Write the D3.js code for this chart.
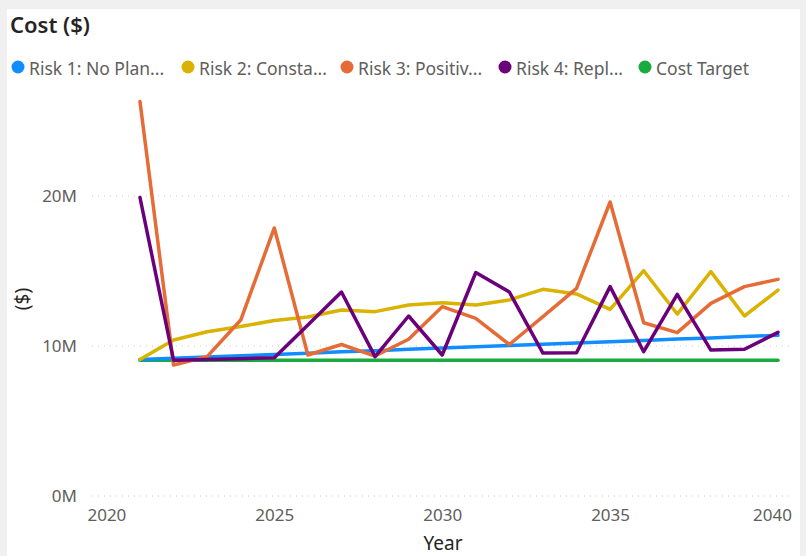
<!DOCTYPE html>
<html>
<head>
<meta charset="utf-8">
<script src="https://cdn.jsdelivr.net/npm/d3@7"></script>
<style>
  body { margin: 0; background: #f0f0f0; }
  svg { display: block; }
  text { font-family: "Segoe UI", "Noto Sans", sans-serif; }
</style>
</head>
<body>
<div id="chart"></div>
<script>
// data (values in $M)
const years = [2021, 2022, 2023, 2024, 2025, 2026, 2027, 2028, 2029, 2030,
               2031, 2032, 2033, 2034, 2035, 2036, 2037, 2038, 2039, 2040];
const risk1 = [9.10, 9.18, 9.27, 9.35, 9.44, 9.52, 9.61, 9.69, 9.78, 9.86,
               9.95, 10.03, 10.12, 10.20, 10.29, 10.37, 10.46, 10.54, 10.63, 10.71];
const risk2 = [9.10, 10.40, 10.95, 11.30, 11.70, 11.93, 12.40, 12.29, 12.73, 12.89,
               12.73, 13.07, 13.78, 13.47, 12.44, 15.02, 12.13, 14.96, 12.00, 13.73];
const risk3 = [26.3, 8.73, 9.29, 11.73, 17.87, 9.40, 10.10, 9.33, 10.45, 12.62,
               11.84, 10.10, 11.96, 13.84, 19.60, 11.55, 10.89, 12.84, 13.96, 14.44];
const risk4 = [19.9, 9.05, 9.10, 9.15, 9.22, 11.40, 13.60, 9.29, 12.00, 9.40,
               14.90, 13.60, 9.53, 9.55, 13.96, 9.62, 13.44, 9.73, 9.78, 10.91];
const costTarget = [9.05, 9.05, 9.05, 9.05, 9.05, 9.05, 9.05, 9.05, 9.05, 9.05,
                    9.05, 9.05, 9.05, 9.05, 9.05, 9.05, 9.05, 9.05, 9.05, 9.05];
const seriesNames = ["Risk 1: No Plan...", "Risk 2: Consta...", "Risk 3: Positiv...", "Risk 4: Repl...", "Cost Target"];
const seriesColors = ["#118DFF", "#D9B300", "#E66C37", "#6B007B", "#1AAB40"];
const yTicks = [0, 10, 20];
const xTicks = [2020, 2025, 2030, 2035, 2040];

const W = 806, H = 556;
const svg = d3.select("#chart").append("svg")
    .attr("width", W)
    .attr("height", H);

// white card
svg.append("rect")
    .attr("x", 7).attr("y", 9)
    .attr("width", 793).attr("height", H - 9)
    .attr("fill", "#ffffff");

svg.append("text")
    .attr("x", 10).attr("y", 33)
    .attr("font-size", 22)
    .attr("font-weight", 600)
    .attr("fill", "#252423")
    .text("Cost ($)");

// legend
const legendX = [18, 188, 347, 505, 645];
const legend = svg.append("g");
seriesNames.forEach(function(name, i) {
    legend.append("circle")
        .attr("cx", legendX[i]).attr("cy", 67).attr("r", 6.5)
        .attr("fill", seriesColors[i]);
    legend.append("text")
        .attr("x", legendX[i] + 11).attr("y", 75)
        .attr("font-size", 17.5)
        .attr("fill", "#605E5C")
        .text(name);
});

const x = d3.scaleLinear().domain([2020, 2040]).range([106.4, 778]);
const y = d3.scaleLinear().domain([0, 20]).range([496, 196]);

// gridlines
svg.append("g")
    .selectAll("line")
    .data(yTicks)
    .enter()
    .append("line")
    .attr("x1", 92).attr("x2", 790)
    .attr("y1", d => y(d)).attr("y2", d => y(d))
    .attr("stroke", "#c8c8c8")
    .attr("stroke-width", 1)
    .attr("stroke-dasharray", "1,5");

const yAxis = svg.append("g")
    .attr("transform", "translate(80,0)")
    .call(d3.axisLeft(y).tickValues(yTicks).tickSize(0).tickPadding(3)
        .tickFormat(d => d + "M"));
yAxis.select(".domain").remove();
yAxis.selectAll("text")
    .attr("font-size", 17)
    .attr("fill", "#605E5C")
    .style("font-family", "'Segoe UI', 'Noto Sans', sans-serif");

const xAxis = svg.append("g")
    .attr("transform", "translate(0,496)")
    .call(d3.axisBottom(x).tickValues(xTicks).tickSize(0).tickPadding(13)
        .tickFormat(d3.format("d")));
xAxis.select(".domain").remove();
xAxis.selectAll("text")
    .attr("font-size", 17)
    .attr("fill", "#605E5C")
    .style("font-family", "'Segoe UI', 'Noto Sans', sans-serif")
    .attr("dx", d => d === 2040 ? -6 : 0);

svg.append("text")
    .attr("x", 443).attr("y", 550)
    .attr("text-anchor", "middle")
    .attr("font-size", 19)
    .attr("fill", "#252423")
    .text("Year");

svg.append("text")
    .attr("transform", "translate(29,299) rotate(-90)")
    .attr("text-anchor", "middle")
    .attr("font-size", 19)
    .attr("fill", "#252423")
    .text("($)");

// lines
const line = d3.line()
    .x((d, i) => x(years[i]))
    .y(d => y(d));

const allSeries = [costTarget, risk1, risk2, risk3, risk4];
const allColors = [seriesColors[4], seriesColors[0], seriesColors[1], seriesColors[2], seriesColors[3]];
svg.append("g")
    .selectAll("path")
    .data(allSeries)
    .enter()
    .append("path")
    .attr("d", d => line(d))
    .attr("fill", "none")
    .attr("stroke", (d, i) => allColors[i])
    .attr("stroke-width", 3.5)
    .attr("stroke-linejoin", "round")
    .attr("stroke-linecap", "round");
</script>
</body>
</html>
